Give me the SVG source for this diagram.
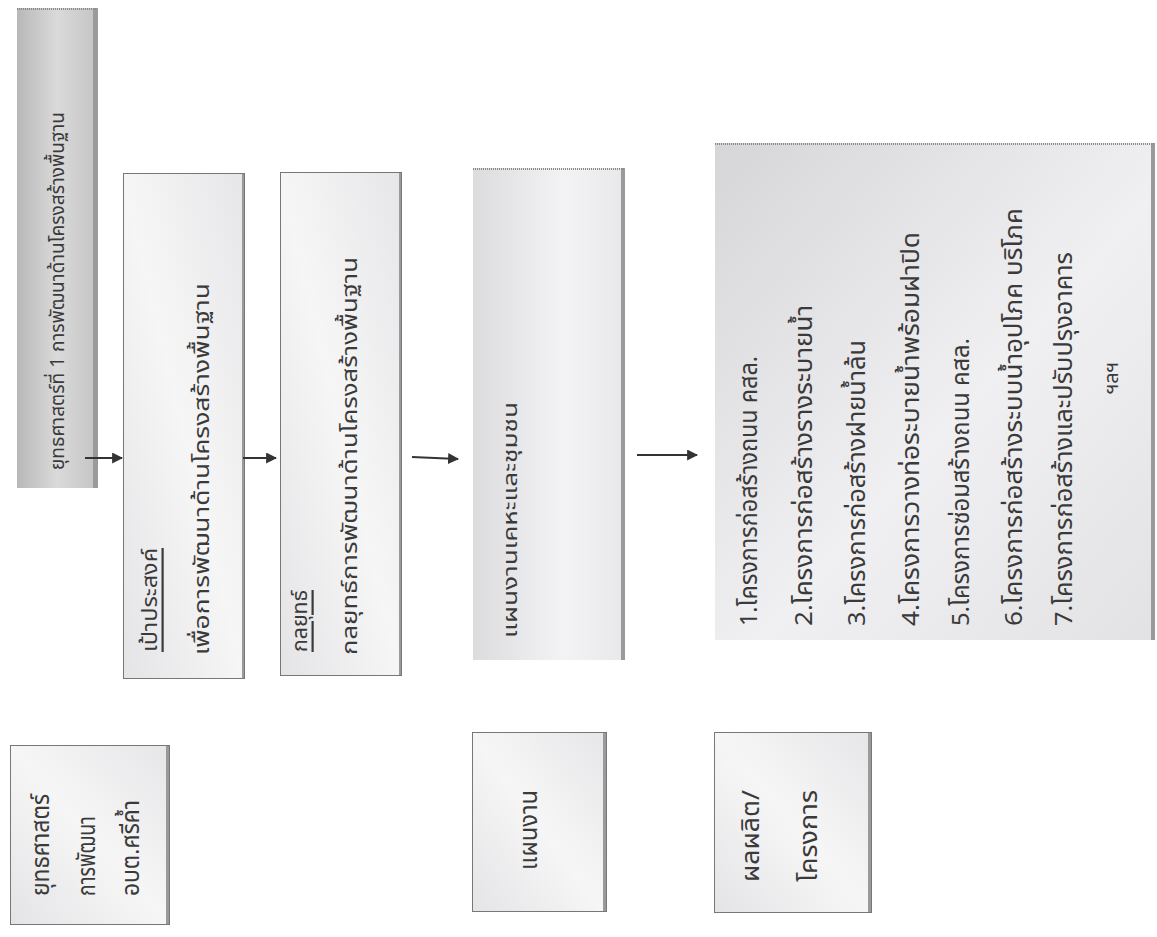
<svg xmlns="http://www.w3.org/2000/svg" width="1157" height="937" viewBox="0 0 1157 937">
<style>
.t{font-family:"Noto Sans Thai","Noto Sans","DejaVu Sans",sans-serif;fill:#3a3a3a;dominant-baseline:central}
.s20{font-size:20px}.s22{font-size:22px}.s24{font-size:24px}
.edge{fill:none;stroke:#777;stroke-width:1}
.sh{fill:#9a9a9a}
.top{stroke:#8a8a8a;stroke-width:2;stroke-dasharray:1 1}
.conn line{stroke:#333;stroke-width:2;marker-end:url(#ah)}
</style>
<defs>
<marker id="ah" viewBox="0 0 10 10" refX="9" refY="5" markerWidth="5.5" markerHeight="5.5" orient="auto" markerUnits="strokeWidth"><path d="M0,0 L10,5 L0,10 z" fill="#333"/></marker>
<linearGradient id="gDark" x1="0" y1="0" x2="1" y2="0"><stop offset="0" stop-color="#b8b8b8"/><stop offset="0.5" stop-color="#dadada"/><stop offset="1" stop-color="#c4c4c4"/></linearGradient>
<linearGradient id="gLight" x1="0" y1="1" x2="1" y2="0"><stop offset="0" stop-color="#e4e4e6"/><stop offset="0.5" stop-color="#f6f6f7"/><stop offset="1" stop-color="#e6e6e8"/></linearGradient>
<linearGradient id="gMid" x1="0" y1="0" x2="1" y2="1"><stop offset="0" stop-color="#d6d6d9"/><stop offset="0.55" stop-color="#f0f0f2"/><stop offset="1" stop-color="#e2e2e5"/></linearGradient>
<linearGradient id="gPlan" x1="0" y1="0" x2="1" y2="0"><stop offset="0" stop-color="#dcdcdf"/><stop offset="0.6" stop-color="#f3f3f5"/><stop offset="1" stop-color="#e8e8ea"/></linearGradient>
</defs>
<rect width="1157" height="937" fill="#fff"/>

<g id="n-strategy1">
<rect x="17" y="8" width="80" height="480" fill="url(#gDark)"/>
<rect class="sh" x="93" y="8" width="5" height="480"/>
<line class="top" x1="17" y1="9" x2="97" y2="9"/>
<text class="t s20" transform="translate(58,470) rotate(-90)" textLength="358" lengthAdjust="spacingAndGlyphs">ยุทธศาสตร์ที่ 1 การพัฒนาด้านโครงสร้างพื้นฐาน</text>
</g>

<g id="n-goal">
<rect x="123" y="173" width="122" height="506" fill="url(#gLight)"/>
<rect class="sh" x="242" y="173" width="3" height="506"/>
<rect class="edge" x="123.5" y="173.5" width="121" height="505"/>
<text class="t s22" transform="translate(150,652) rotate(-90)" text-decoration="underline" textLength="104" lengthAdjust="spacingAndGlyphs">เป้าประสงค์</text>
<text class="t s22" transform="translate(202,655) rotate(-90)" textLength="372" lengthAdjust="spacingAndGlyphs">เพื่อการพัฒนาด้านโครงสร้างพื้นฐาน</text>
</g>

<g id="n-tactic">
<rect x="280" y="172" width="122" height="504" fill="url(#gLight)"/>
<rect class="sh" x="399" y="172" width="3" height="504"/>
<rect class="edge" x="280.5" y="172.5" width="121" height="503"/>
<text class="t s22" transform="translate(300,652) rotate(-90)" text-decoration="underline" textLength="62" lengthAdjust="spacingAndGlyphs">กลยุทธ์</text>
<text class="t s22" transform="translate(350,655) rotate(-90)" textLength="398" lengthAdjust="spacingAndGlyphs">กลยุทธ์การพัฒนาด้านโครงสร้างพื้นฐาน</text>
</g>

<g id="n-plan">
<rect x="473" y="168" width="152" height="492" fill="url(#gPlan)"/>
<rect class="sh" x="621" y="168" width="4" height="492"/>
<line class="top" x1="473" y1="169" x2="625" y2="169"/>
<text class="t s20" transform="translate(511,638) rotate(-90)" textLength="236" lengthAdjust="spacingAndGlyphs">แผนงานเคหะและชุมชน</text>
</g>

<g id="n-projects">
<rect x="715" y="143" width="440" height="497" fill="url(#gMid)"/>
<rect class="sh" x="1151" y="143" width="4" height="497"/>
<line class="top" x1="715" y1="144" x2="1155" y2="144"/>
<text class="t s24" transform="translate(750,626) rotate(-90)" textLength="270" lengthAdjust="spacingAndGlyphs">1.โครงการก่อสร้างถนน คสล.</text>
<text class="t s24" transform="translate(805,626) rotate(-90)" textLength="321" lengthAdjust="spacingAndGlyphs">2.โครงการก่อสร้างรางระบายน้ำ</text>
<text class="t s24" transform="translate(858,626) rotate(-90)" textLength="286" lengthAdjust="spacingAndGlyphs">3.โครงการก่อสร้างฝายน้ำล้น</text>
<text class="t s24" transform="translate(912,626) rotate(-90)" textLength="394" lengthAdjust="spacingAndGlyphs">4.โครงการวางท่อระบายน้ำพร้อมฝาปิด</text>
<text class="t s24" transform="translate(962,626) rotate(-90)" textLength="288" lengthAdjust="spacingAndGlyphs">5.โครงการซ่อมสร้างถนน คสล.</text>
<text class="t s24" transform="translate(1015,626) rotate(-90)" textLength="418" lengthAdjust="spacingAndGlyphs">6.โครงการก่อสร้างระบบน้ำอุปโภค บริโภค</text>
<text class="t s24" transform="translate(1065,626) rotate(-90)" textLength="374" lengthAdjust="spacingAndGlyphs">7.โครงการก่อสร้างและปรับปรุงอาคาร</text>
<text class="t s20" transform="translate(1112,378) rotate(-90)" text-anchor="middle">ฯลฯ</text>
</g>

<g id="n-label-strategy">
<rect x="10" y="745" width="160" height="180" fill="url(#gLight)"/>
<rect class="sh" x="166" y="745" width="4" height="180"/>
<rect class="edge" x="10.5" y="745.5" width="159" height="179"/>
<text class="t s24" transform="translate(42,896) rotate(-90)" textLength="102" lengthAdjust="spacingAndGlyphs">ยุทธศาสตร์</text>
<text class="t s24" transform="translate(88,896) rotate(-90)" textLength="80" lengthAdjust="spacingAndGlyphs">การพัฒนา</text>
<text class="t s24" transform="translate(132,896) rotate(-90)" textLength="96" lengthAdjust="spacingAndGlyphs">อบต.ศรีค้ำ</text>
</g>

<g id="n-label-plan">
<rect x="472" y="732" width="135" height="180" fill="url(#gLight)"/>
<rect class="sh" x="603" y="732" width="4" height="180"/>
<rect class="edge" x="472.5" y="732.5" width="134" height="179"/>
<text class="t s24" transform="translate(530,870) rotate(-90)" textLength="80" lengthAdjust="spacingAndGlyphs">แผนงาน</text>
</g>

<g id="n-label-output">
<rect x="714" y="732" width="158" height="181" fill="url(#gLight)"/>
<rect class="sh" x="868" y="732" width="4" height="181"/>
<rect class="edge" x="714.5" y="732.5" width="157" height="180"/>
<text class="t s24" transform="translate(752,882) rotate(-90)" textLength="92" lengthAdjust="spacingAndGlyphs">ผลผลิต/</text>
<text class="t s24" transform="translate(810,882) rotate(-90)" textLength="92" lengthAdjust="spacingAndGlyphs">โครงการ</text>
</g>

<g id="connectors" class="conn">
<line x1="85" y1="458" x2="122" y2="458"/>
<line x1="243" y1="458" x2="276" y2="458"/>
<line x1="412" y1="457" x2="458" y2="459"/>
<line x1="637" y1="455" x2="697" y2="455"/>
</g>
</svg>
